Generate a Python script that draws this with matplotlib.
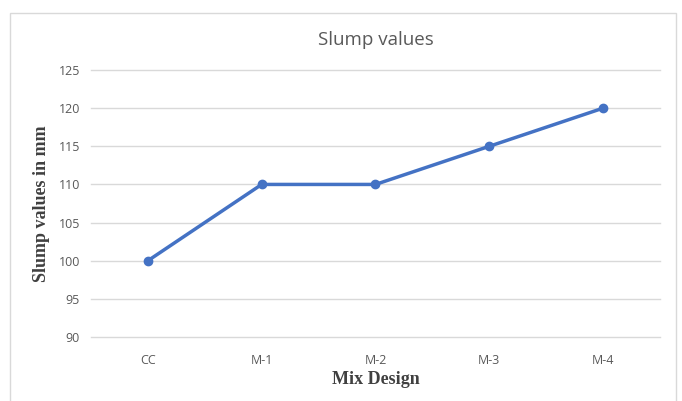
import matplotlib.pyplot as plt
from matplotlib.patches import Rectangle

categories = ['CC', 'M-1', 'M-2', 'M-3', 'M-4']
slump = [100, 110, 110, 115, 120]
yticks = [90, 95, 100, 105, 110, 115, 120, 125]

fig = plt.figure(figsize=(6.82, 4.01), dpi=100)
ax = fig.add_axes([0.1334, 0.1596, 0.8343, 0.6658])

# chart border (excel style)
fig.patches.append(Rectangle((10 / 682, -0.05), 666 / 682, 1 - 13 / 401 + 0.05,
                             transform=fig.transFigure, fill=False,
                             edgecolor='#d9d9d9', linewidth=1))

x = range(len(categories))
ax.plot(x, slump, color='#4472c4', linewidth=2.5, marker='o', markersize=6)

ax.set_xlim(-0.5, len(categories) - 0.5)
ax.set_ylim(90, 125)
ax.set_yticks(yticks)
ax.set_xticks(list(x))
ax.set_xticklabels(categories)
ax.grid(axis='y', color='#d9d9d9', linewidth=1)
for gl in ax.yaxis.get_gridlines():
    gl.set_clip_on(False)
ax.set_axisbelow(True)
for s in ax.spines.values():
    s.set_visible(False)
ax.tick_params(length=0, labelsize=9, labelcolor='#595959', pad=8)
for lab in ax.get_xticklabels() + ax.get_yticklabels():
    lab.set_family('Open Sans')
ax.tick_params(axis='x', pad=12)

fig.text(0.5 * (91 + 660) / 682, 1 - 40 / 401, 'Slump values', ha='center', va='center',
         fontsize=13.5, color='#595959', family='Open Sans')
fig.text(42 / 682, 1 - 204 / 401, 'Slump values in mm', ha='center', va='center',
         rotation=90, fontsize=13, fontweight='bold', color='#404040',
         family='Liberation Serif')
fig.text(376 / 682, 1 - 379 / 401, 'Mix Design', ha='center', va='center',
         fontsize=13, fontweight='bold', color='#404040', family='Liberation Serif')

plt.savefig('out.png', dpi=100)
